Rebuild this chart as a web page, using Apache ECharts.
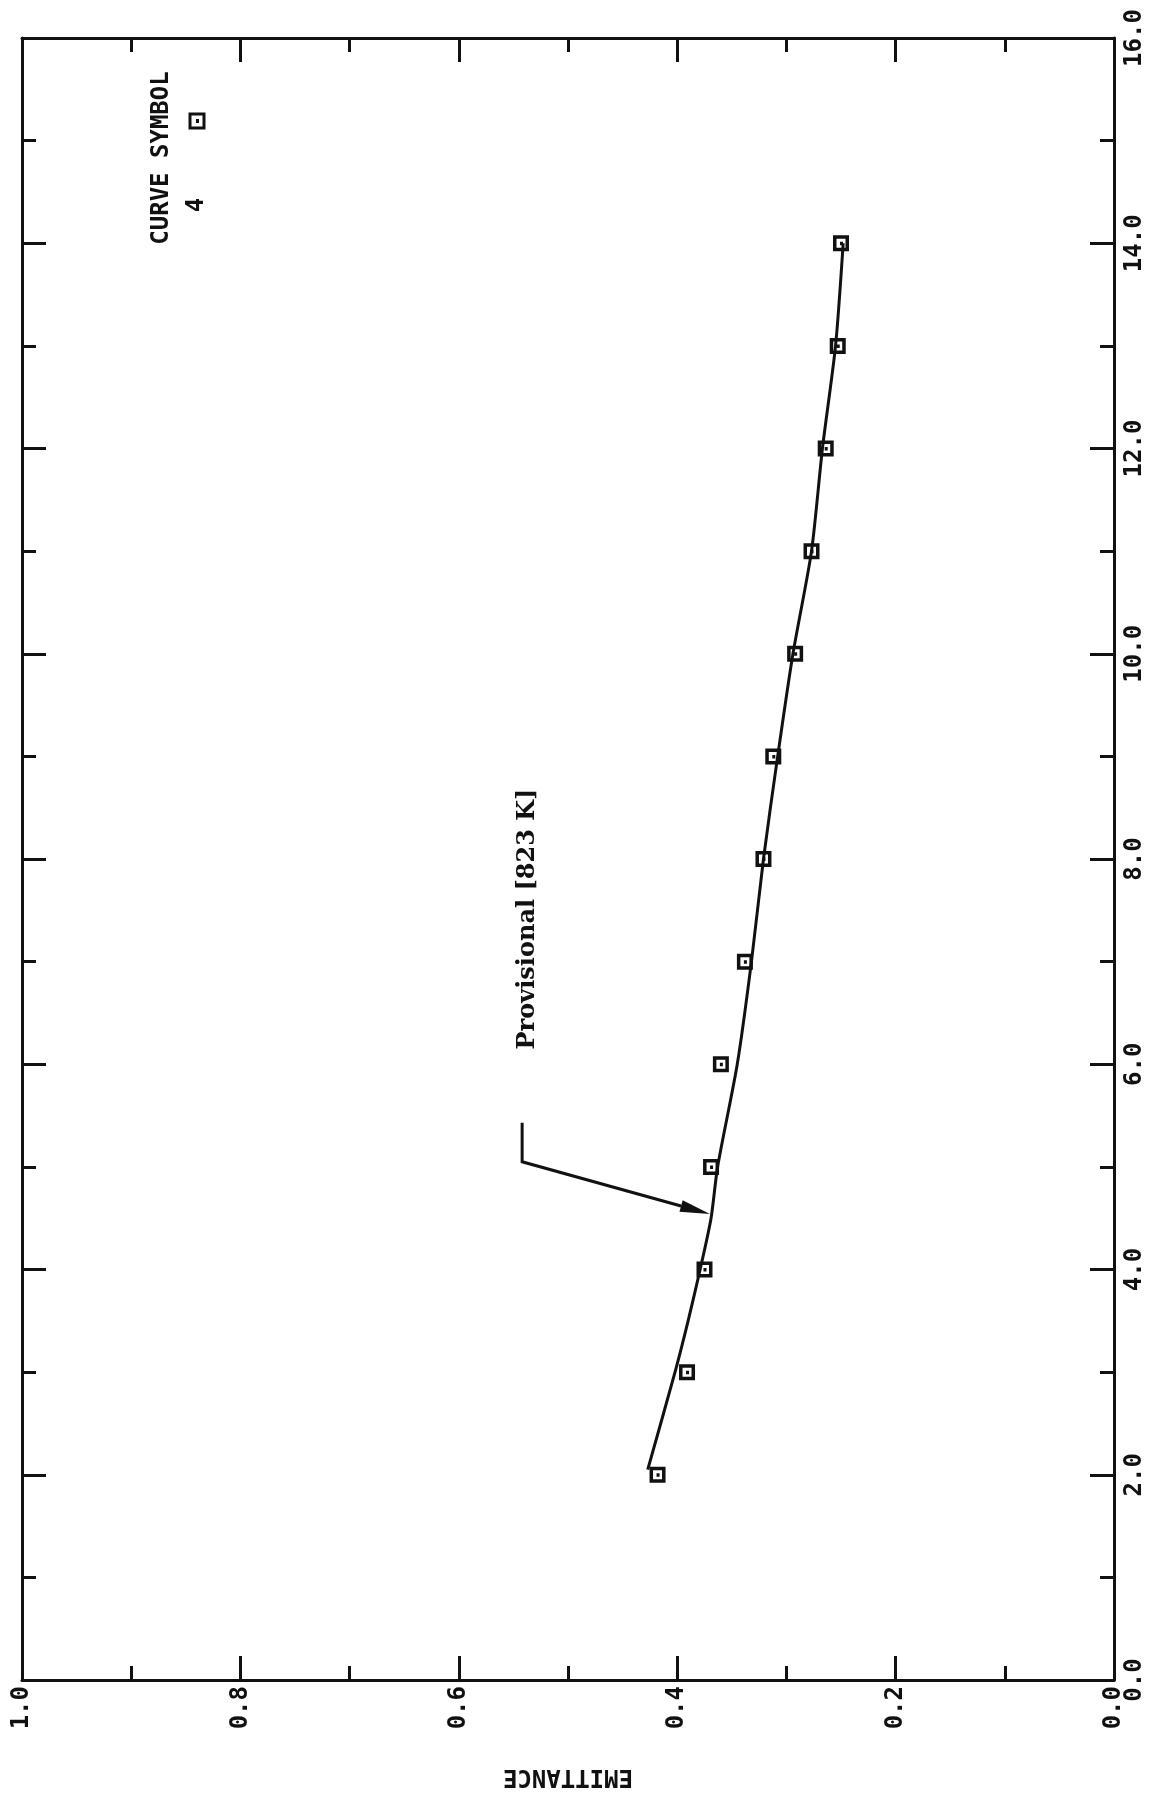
<!DOCTYPE html>
<html>
<head>
<meta charset="utf-8">
<script src="https://cdn.jsdelivr.net/npm/echarts@6/dist/echarts.min.js"></script>
<style>
  html, body { margin: 0; padding: 0; background: #ffffff; }
  #chart { width: 1149px; height: 1797px; }
</style>
</head>
<body>
<div id="chart"></div>
<script>
// Measured emittance at each wavelength (curve 4)
const wavelength = [2, 3, 4, 5, 6, 7, 8, 9, 10, 11, 12, 13, 14];
const emittance = [0.418, 0.391, 0.375, 0.369, 0.360, 0.338, 0.321, 0.312, 0.292, 0.277, 0.264, 0.253, 0.250];

// Provisional smoothed curve
const curveWavelength = [2.05, 3, 3.5, 4, 4.5, 5, 6, 7, 8, 9, 10, 11, 12, 13, 14];
const curveEmittance = [0.427, 0.402, 0.390, 0.379, 0.369, 0.363, 0.345, 0.332, 0.321, 0.308, 0.294, 0.277, 0.267, 0.255, 0.248];

// Leader from the annotation to the curve, [emittance, wavelength]
const pointerPath = [[0.542, 5.43], [0.542, 5.05], [0.370, 4.54]];

const curveLabel = 'Provisional [823 K]';
const emittanceTicks = { min: 0, max: 1, step: 0.2 };
const wavelengthTicks = { min: 0, max: 16, step: 2 };

const INK = '#111111';
const MONO = 'DejaVu Sans Mono';
const boxSymbol = 'path://M0,0H16V16H0Z M3.5,3.5V12.5H12.5V3.5Z M7,6.5H10V10H7Z';

const chart = echarts.init(document.getElementById('chart'), null, { renderer: 'canvas' });

function frameAxis(extra) {
  return Object.assign({
    type: 'value',
    axisLine: { show: true, onZero: false, lineStyle: { color: INK, width: 3 } },
    axisTick: { show: true, inside: true, length: 24, lineStyle: { color: INK, width: 3 } },
    minorTick: { show: true, splitNumber: 2, length: 14, lineStyle: { color: INK, width: 3 } },
    splitLine: { show: false },
    minorSplitLine: { show: false }
  }, extra);
}

const labelStyle = {
  rotate: 90,
  color: INK,
  fontFamily: MONO,
  fontWeight: 'bold',
  fontSize: 24,
  formatter: v => v.toFixed(1)
};

const option = {
  backgroundColor: '#ffffff',
  animation: false,
  grid: { left: 22, right: 35, top: 38, bottom: 117, containLabel: false, outerBoundsMode: 'none' },
  xAxis: [
    frameAxis({
      position: 'bottom', inverse: true,
      min: emittanceTicks.min, max: emittanceTicks.max, interval: emittanceTicks.step,
      axisLabel: Object.assign({ margin: 6 }, labelStyle),
      name: 'EMITTANCE', nameLocation: 'middle', nameGap: 84, nameRotate: 180,
      nameTextStyle: { color: INK, fontFamily: MONO, fontWeight: 'bold', fontSize: 24 }
    }),
    frameAxis({
      position: 'top', inverse: true,
      min: emittanceTicks.min, max: emittanceTicks.max, interval: emittanceTicks.step,
      axisLabel: { show: false }
    })
  ],
  yAxis: [
    frameAxis({
      position: 'right',
      min: wavelengthTicks.min, max: wavelengthTicks.max, interval: wavelengthTicks.step,
      axisLabel: Object.assign({ margin: 9 }, labelStyle)
    }),
    frameAxis({
      position: 'left',
      min: wavelengthTicks.min, max: wavelengthTicks.max, interval: wavelengthTicks.step,
      axisLabel: { show: false }
    })
  ],
  series: [
    {
      type: 'line',
      xAxisIndex: 0, yAxisIndex: 0,
      data: curveWavelength.map((w, i) => [curveEmittance[i], w]),
      smooth: 0.25,
      showSymbol: false,
      lineStyle: { color: INK, width: 3 },
      silent: true
    },
    {
      type: 'scatter',
      xAxisIndex: 0, yAxisIndex: 0,
      data: wavelength.map((w, i) => [emittance[i], w]),
      symbol: boxSymbol,
      symbolSize: 16,
      itemStyle: { color: INK, opacity: 1 },
      z: 5
    }
  ]
};

chart.setOption(option);

// Annotation arrow, legend and rotated captions
const px = pointerPath.map(p => chart.convertToPixel({ gridIndex: 0 }, p));
const tip = px[px.length - 1];
const prev = px[px.length - 2];
const dx = tip[0] - prev[0], dy = tip[1] - prev[1];
const len = Math.hypot(dx, dy);
const ux = dx / len, uy = dy / len;
const headLen = 30, headHalf = 6;
const base = [tip[0] - ux * headLen, tip[1] - uy * headLen];
const leader = px.slice(0, -1).concat([base]);

const rotatedText = (text, x, y, font, size, weight) => ({
  type: 'text', x, y, rotation: Math.PI / 2,
  style: { text, fill: INK, font: `${weight || 'normal'} ${size}px "${font}"`, align: 'center', verticalAlign: 'middle' }
});

chart.setOption({
  graphic: [
    { type: 'polyline', shape: { points: leader }, style: { stroke: INK, lineWidth: 3, fill: null } },
    {
      type: 'polygon',
      shape: { points: [tip, [base[0] - uy * headHalf, base[1] + ux * headHalf], [base[0] + uy * headHalf, base[1] - ux * headHalf]] },
      style: { fill: INK }
    },
    rotatedText(curveLabel, 528, 919, 'DejaVu Serif', 24, 'bold'),
    rotatedText('CURVE SYMBOL', 162, 158, MONO, 24, 'bold'),
    rotatedText('4', 197, 205, MONO, 24, 'bold'),
    { type: 'rect', shape: { x: 190, y: 114, width: 14, height: 14 }, style: { fill: null, stroke: INK, lineWidth: 3 } },
    { type: 'rect', shape: { x: 196, y: 119, width: 3, height: 4 }, style: { fill: INK } }
  ]
});
</script>
</body>
</html>
